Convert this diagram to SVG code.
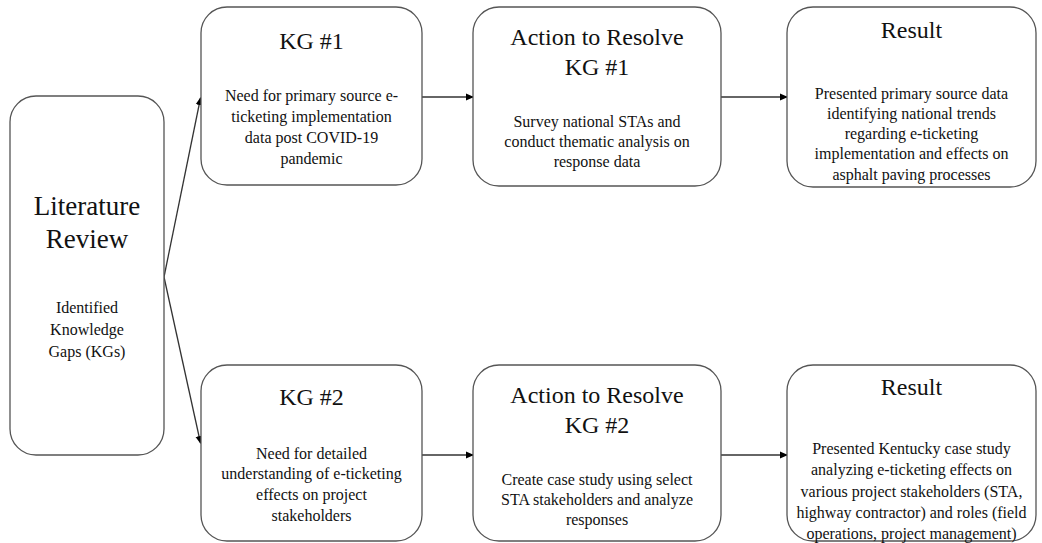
<svg xmlns="http://www.w3.org/2000/svg" width="1042" height="543" viewBox="0 0 1042 543">
<defs>
<marker id="ah" markerWidth="8" markerHeight="8" refX="7" refY="4" orient="auto" markerUnits="userSpaceOnUse">
<path d="M0,0.5 L8,4 L0,7.5 Z" fill="#000"/>
</marker>
<style>
.box{fill:#fff;stroke:#555;stroke-width:1.3}
.t{font-family:"Liberation Serif","Times New Roman",serif;fill:#111;text-anchor:middle}
.big{font-size:27px}
.ttl{font-size:24px}
.body{font-size:16px}
.conn{stroke:#333;stroke-width:1.3;fill:none;marker-end:url(#ah)}
</style>
</defs>
<rect width="1042" height="543" fill="#fff"/>
<g id="connectors">
<line class="conn" x1="164" y1="277" x2="200.5" y2="98"/>
<line class="conn" x1="164" y1="277" x2="200.5" y2="443"/>
<line class="conn" x1="422" y1="97" x2="473" y2="97"/>
<line class="conn" x1="721" y1="97" x2="787" y2="97"/>
<line class="conn" x1="422" y1="455" x2="473" y2="455"/>
<line class="conn" x1="721" y1="455" x2="787" y2="455"/>
</g>
<g id="lit">
<rect class="box" x="10" y="96" width="154" height="359" rx="26"/>
<text class="t big" x="87" y="215">Literature</text>
<text class="t big" x="87" y="248">Review</text>
<text class="t body" x="87" y="313">Identified</text>
<text class="t body" x="87" y="335">Knowledge</text>
<text class="t body" x="87" y="357">Gaps (KGs)</text>
</g>
<g id="kg1">
<rect class="box" x="201" y="7" width="221" height="178" rx="26"/>
<text class="t ttl" x="311.5" y="49">KG #1</text>
<text class="t body" x="311.5" y="101">Need for primary source e-</text>
<text class="t body" x="311.5" y="122">ticketing implementation</text>
<text class="t body" x="311.5" y="143">data post COVID-19</text>
<text class="t body" x="311.5" y="164">pandemic</text>
</g>
<g id="act1">
<rect class="box" x="473" y="7" width="248" height="179" rx="26"/>
<text class="t ttl" x="597" y="45">Action to Resolve</text>
<text class="t ttl" x="597" y="75">KG #1</text>
<text class="t body" x="597" y="127">Survey national STAs and</text>
<text class="t body" x="597" y="147">conduct thematic analysis on</text>
<text class="t body" x="597" y="167">response data</text>
</g>
<g id="res1">
<rect class="box" x="787" y="7" width="249" height="180" rx="26"/>
<text class="t ttl" x="911.5" y="38">Result</text>
<text class="t body" x="911.5" y="99">Presented primary source data</text>
<text class="t body" x="911.5" y="119">identifying national trends</text>
<text class="t body" x="911.5" y="139">regarding e-ticketing</text>
<text class="t body" x="911.5" y="159">implementation and effects on</text>
<text class="t body" x="911.5" y="180">asphalt paving processes</text>
</g>
<g id="kg2">
<rect class="box" x="201" y="365" width="221" height="176" rx="26"/>
<text class="t ttl" x="311.5" y="405">KG #2</text>
<text class="t body" x="311.5" y="459">Need for detailed</text>
<text class="t body" x="311.5" y="479">understanding of e-ticketing</text>
<text class="t body" x="311.5" y="500">effects on project</text>
<text class="t body" x="311.5" y="521">stakeholders</text>
</g>
<g id="act2">
<rect class="box" x="473" y="365" width="248" height="176" rx="26"/>
<text class="t ttl" x="597" y="403">Action to Resolve</text>
<text class="t ttl" x="597" y="433">KG #2</text>
<text class="t body" x="597" y="485">Create case study using select</text>
<text class="t body" x="597" y="505">STA stakeholders and analyze</text>
<text class="t body" x="597" y="525">responses</text>
</g>
<g id="res2">
<rect class="box" x="787" y="365" width="249" height="176" rx="26"/>
<text class="t ttl" x="911.5" y="395">Result</text>
<text class="t body" x="911.5" y="454">Presented Kentucky case study</text>
<text class="t body" x="911.5" y="475">analyzing e-ticketing effects on</text>
<text class="t body" x="911.5" y="497">various project stakeholders (STA,</text>
<text class="t body" x="911.5" y="518">highway contractor) and roles (field</text>
<text class="t body" x="911.5" y="539">operations, project management)</text>
</g>
</svg>
